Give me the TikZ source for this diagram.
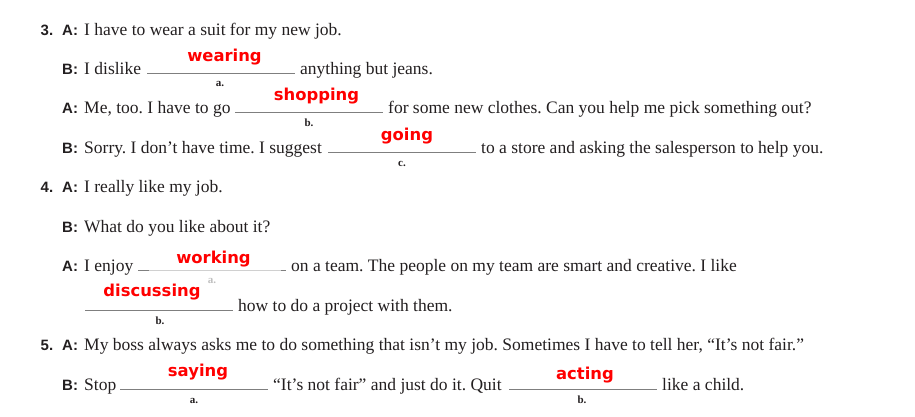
\documentclass[tikz,border=0pt]{standalone}
\usepackage{fontspec}
\setmainfont{Liberation Serif}
\newfontfamily\lblfont{Liberation Sans}
\newfontfamily\ansfont{DejaVu Sans}
\definecolor{txtc}{HTML}{231F20}
\definecolor{rulec}{HTML}{7F7F7F}
\definecolor{lightc}{HTML}{D0D0D0}
\definecolor{ansc}{HTML}{FF0000}
\frenchspacing
\begin{document}
\begin{tikzpicture}[x=1pt,y=-1pt,
  txt/.style={anchor=base west, inner sep=0pt, text=txtc, font=\rmfamily\fontsize{17.5}{20}\selectfont},
  lbl/.style={anchor=base west, inner sep=0pt, text=txtc, font=\lblfont\bfseries\fontsize{15}{18}\selectfont},
  ans/.style={anchor=base, inner sep=0pt, text=ansc, font=\ansfont\bfseries\fontsize{16.4}{20}\selectfont},
  sub/.style={anchor=base, inner sep=0pt, text=txtc, font=\rmfamily\bfseries\fontsize{11}{12}\selectfont},
  subl/.style={sub, text=lightc!80!gray},
  blank/.style={draw=rulec, line width=1pt},
  lblank/.style={draw=lightc, line width=1pt}]
\useasboundingbox[fill=white] (0,0) rectangle (915,416);
% ---- 3 ----
\node[lbl] (n3) at (40.5,35) {3.};
\node[lbl] (a1) at (62,35) {A:};
\node[txt] (t1) at (84,35) {I have to wear a suit for my new job.};
\node[lbl] (b2) at (62,74) {B:};
\node[txt] (t2) at (84,74) {I dislike};
\draw[blank] (147,73) coordinate (u2s) -- (295,73) coordinate (u2e);
\node[ans] (w1) at (224.5,61) {wearing};
\node[sub] (s2) at (220,86) {a.};
\node[txt] (t2b) at (300,74) {anything but jeans.};
\node[lbl] (a3) at (62,113.5) {A:};
\node[txt] (t3) at (84,113.5) {Me, too. I have to go};
\draw[blank] (235,112.5) coordinate (u3s) -- (383,112.5) coordinate (u3e);
\node[ans] (w2) at (316.5,100) {shopping};
\node[sub] (s3) at (309,126) {b.};
\node[txt] (t3b) at (388,113.5) {for some new clothes. Can you help me pick something out?};
\node[lbl] (b4) at (62,153) {B:};
\node[txt] (t4) at (84,153) {Sorry. I don’t have time. I suggest};
\draw[blank] (328,152) coordinate (u4s) -- (476,152) coordinate (u4e);
\node[ans] (w3) at (407,140) {going};
\node[sub] (s4) at (402,166) {c.};
\node[txt] (t4b) at (481,153) {to a store and asking the salesperson to help you.};
% ---- 4 ----
\node[lbl] (n4) at (40.5,192.5) {4.};
\node[lbl] (a5) at (62,192.5) {A:};
\node[txt] (t5) at (84,192.5) {I really like my job.};
\node[lbl] (b6) at (62,232) {B:};
\node[txt] (t6) at (84,232) {What do you like about it?};
\node[lbl] (a7) at (62,271.5) {A:};
\node[txt] (t7) at (84,271.5) {I enjoy};
\draw[lblank] (149,270.5) -- (281,270.5);
\draw[blank] (138,270.5) -- (149,270.5);
\draw[blank] (281,270.5) -- (286,270.5);
\node[ans] (w4) at (213.5,263) {working};
\node[subl] (s7) at (212,283) {a.};
\node[txt] (t7b) at (291,271.5) {on a team. The people on my team are smart and creative. I like};
\draw[blank] (85,310) -- (233,310);
\node[ans] (w5) at (152,296) {discussing};
\node[sub] (s8) at (160,324) {b.};
\node[txt] (t8) at (238,311) {how to do a project with them.};
% ---- 5 ----
\node[lbl] (n5) at (40.5,350.5) {5.};
\node[lbl] (a9) at (62,350.5) {A:};
\node[txt] (t9) at (84,350.5) {My boss always asks me to do something that isn’t my job. Sometimes I have to tell her, “It’s not fair.”};
\node[lbl] (b10) at (62,390) {B:};
\node[txt] (t10) at (84,390) {Stop};
\draw[blank] (120,389) -- (268,389);
\node[ans] (w6) at (198,376) {saying};
\node[sub] (s10) at (194,403) {a.};
\node[txt] (t10b) at (273,390) {“It’s not fair” and just do it. Quit};
\draw[blank] (509,389) -- (657,389);
\node[ans] (w7) at (585,379) {acting};
\node[sub] (s10b) at (582,403) {b.};
\node[txt] (t10c) at (662,390) {like a child.};
\end{tikzpicture}
\end{document}
